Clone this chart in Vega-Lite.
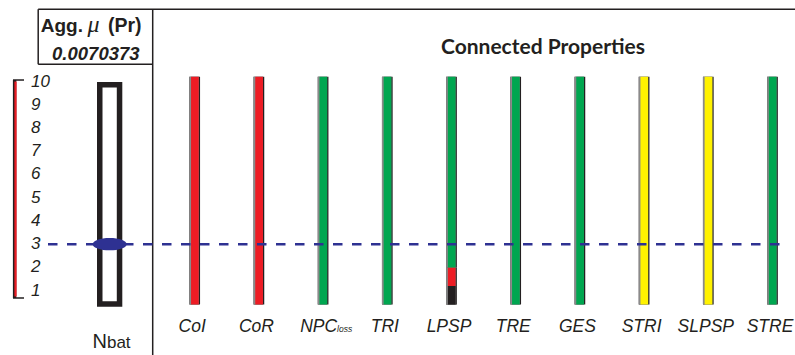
{
  "$schema": "https://vega.github.io/schema/vega-lite/v6.json",
  "width": 795,
  "height": 355,
  "autosize": {"type": "none"},
  "padding": 0,
  "background": "white",
  "config": {"view": {"stroke": null}, "text": {"font": "Liberation Sans", "color": "#231f20"}},
  "datasets": {
    "properties": [
      {"name": "CoI", "label": "CoI", "sub": ""},
      {"name": "CoR", "label": "CoR", "sub": ""},
      {"name": "NPCloss", "label": "NPC", "sub": "loss"},
      {"name": "TRI", "label": "TRI", "sub": ""},
      {"name": "LPSP", "label": "LPSP", "sub": ""},
      {"name": "TRE", "label": "TRE", "sub": ""},
      {"name": "GES", "label": "GES", "sub": ""},
      {"name": "STRI", "label": "STRI", "sub": ""},
      {"name": "SLPSP", "label": "SLPSP", "sub": ""},
      {"name": "STRE", "label": "STRE", "sub": ""}
    ],
    "segments": [
      {"name": "CoI", "status": "fail", "lo": 0.4, "hi": 10.2},
      {"name": "CoR", "status": "fail", "lo": 0.4, "hi": 10.2},
      {"name": "NPCloss", "status": "pass", "lo": 0.4, "hi": 10.2},
      {"name": "TRI", "status": "pass", "lo": 0.4, "hi": 10.2},
      {"name": "LPSP", "status": "critical", "lo": 0.4, "hi": 1.2},
      {"name": "LPSP", "status": "fail", "lo": 1.2, "hi": 2.0},
      {"name": "LPSP", "status": "pass", "lo": 2.0, "hi": 10.2},
      {"name": "TRE", "status": "pass", "lo": 0.4, "hi": 10.2},
      {"name": "GES", "status": "pass", "lo": 0.4, "hi": 10.2},
      {"name": "STRI", "status": "warn", "lo": 0.4, "hi": 10.2},
      {"name": "SLPSP", "status": "warn", "lo": 0.4, "hi": 10.2},
      {"name": "STRE", "status": "pass", "lo": 0.4, "hi": 10.2}
    ],
    "battery": [{"name": "Nbat", "label": "N", "sub": "bat", "lo": 0.43, "hi": 9.86, "selected": 3}],
    "levels": [
      {"level": 1}, {"level": 2}, {"level": 3}, {"level": 4}, {"level": 5},
      {"level": 6}, {"level": 7}, {"level": 8}, {"level": 9}, {"level": 10}
    ]
  },
  "resolve": {"scale": {"x": "independent"}},
  "layer": [
    {
      "layer": [
        {
          "data": {"name": "segments"},
          "mark": {"type": "bar", "color": "#231f20"},
          "encoding": {
            "x": {"field": "name", "type": "nominal", "axis": null,
              "scale": {"type": "band", "domain": ["CoI", "CoR", "NPCloss", "TRI", "LPSP", "TRE", "GES", "STRI", "SLPSP", "STRE"], "range": [189.35, 777.85], "paddingInner": 0.8333, "paddingOuter": 0, "round": false}},
            "y": {"field": "lo", "type": "quantitative", "axis": null, "scale": {"domain": [-1.768, 13.508], "nice": false, "zero": false}},
            "y2": {"field": "hi"}
          }
        },
        {
          "data": {"name": "segments"},
          "mark": {"type": "bar", "color": "#8a8a8a", "width": 9.4, "xOffset": -0.65},
          "encoding": {
            "x": {"field": "name", "type": "nominal", "axis": null},
            "y": {"field": "lo", "type": "quantitative", "axis": null},
            "y2": {"field": "hi"}
          }
        },
        {
          "data": {"name": "segments"},
          "mark": {"type": "bar", "width": 7.7, "xOffset": 0.2, "opacity": 1},
          "encoding": {
            "x": {"field": "name", "type": "nominal", "axis": null},
            "y": {"field": "lo", "type": "quantitative", "axis": null},
            "y2": {"field": "hi"},
            "color": {"field": "status", "type": "nominal", "legend": null,
              "scale": {"domain": ["pass", "fail", "warn", "critical"], "range": ["#00a650", "#ed1c24", "#fff200", "#231f20"]}}
          }
        },
        {
          "data": {"name": "properties"},
          "transform": [{"filter": "datum.sub == ''"}],
          "mark": {"type": "text", "fontSize": 17.5, "fontStyle": "italic", "align": "center", "baseline": "alphabetic", "dx": -2.5},
          "encoding": {
            "x": {"field": "name", "type": "nominal", "axis": null},
            "y": {"datum": -0.778, "type": "quantitative"},
            "text": {"field": "label"}
          }
        },
        {
          "data": {"name": "properties"},
          "transform": [{"filter": "datum.sub != ''"}],
          "mark": {"type": "text", "fontSize": 17.5, "fontStyle": "italic", "align": "right", "baseline": "alphabetic", "dx": 14},
          "encoding": {
            "x": {"field": "name", "type": "nominal", "axis": null},
            "y": {"datum": -0.778, "type": "quantitative"},
            "text": {"field": "label"}
          }
        },
        {
          "data": {"name": "properties"},
          "transform": [{"filter": "datum.sub != ''"}],
          "mark": {"type": "text", "fontSize": 8.5, "fontStyle": "italic", "align": "left", "baseline": "alphabetic", "dx": 14},
          "encoding": {
            "x": {"field": "name", "type": "nominal", "axis": null},
            "y": {"datum": -0.778, "type": "quantitative"},
            "text": {"field": "sub"}
          }
        }
      ]
    },
    {
      "data": {"values": [{}]},
      "layer": [
        {
          "mark": {"type": "rule", "color": "#231f20", "strokeWidth": 1.5},
          "encoding": {
            "x": {"datum": 38.2, "type": "quantitative", "axis": null, "scale": {"type": "linear", "domain": [0, 795], "nice": false, "zero": false}},
            "x2": {"datum": 795},
            "y": {"datum": 13.112, "type": "quantitative", "axis": null}
          }
        },
        {
          "mark": {"type": "rule", "color": "#231f20", "strokeWidth": 1.5},
          "encoding": {
            "x": {"datum": 38.2, "type": "quantitative"},
            "y": {"datum": 13.112, "type": "quantitative"},
            "y2": {"datum": 10.741}
          }
        },
        {
          "mark": {"type": "rule", "color": "#231f20", "strokeWidth": 1.5},
          "encoding": {
            "x": {"datum": 38.2, "type": "quantitative"},
            "x2": {"datum": 152.7},
            "y": {"datum": 10.741, "type": "quantitative"}
          }
        },
        {
          "mark": {"type": "rule", "color": "#231f20", "strokeWidth": 1.5},
          "encoding": {
            "x": {"datum": 152.7, "type": "quantitative"},
            "y": {"datum": 13.112, "type": "quantitative"},
            "y2": {"datum": -1.768}
          }
        },
        {
          "mark": {"type": "rule", "color": "#231f20", "strokeWidth": 3.4},
          "encoding": {
            "x": {"datum": 14.6, "type": "quantitative"},
            "y": {"datum": 10.065, "type": "quantitative"},
            "y2": {"datum": 0.685}
          }
        },
        {
          "mark": {"type": "rule", "color": "#ed1c24", "strokeWidth": 2.2},
          "encoding": {
            "x": {"datum": 15.5, "type": "quantitative"},
            "y": {"datum": 10.0, "type": "quantitative"},
            "y2": {"datum": 0.75}
          }
        },
        {
          "mark": {"type": "rule", "color": "#231f20", "strokeWidth": 1.5},
          "encoding": {
            "x": {"datum": 13.0, "type": "quantitative"},
            "x2": {"datum": 24},
            "y": {"datum": 10.065, "type": "quantitative"}
          }
        },
        {
          "mark": {"type": "rule", "color": "#231f20", "strokeWidth": 1.5},
          "encoding": {
            "x": {"datum": 13.0, "type": "quantitative"},
            "x2": {"datum": 24},
            "y": {"datum": 0.685, "type": "quantitative"}
          }
        },
        {
          "mark": {"type": "rule", "color": "#2e3192", "strokeWidth": 2.5, "strokeDash": [9.5, 9.5]},
          "encoding": {
            "x": {"datum": 48, "type": "quantitative"},
            "x2": {"datum": 787},
            "y": {"datum": 3, "type": "quantitative"}
          }
        },
        {
          "data": {"name": "levels"},
          "mark": {"type": "text", "fontSize": 17, "fontStyle": "italic", "align": "left", "baseline": "middle"},
          "encoding": {
            "x": {"datum": 31, "type": "quantitative"},
            "y": {"field": "level", "type": "quantitative"},
            "text": {"field": "level"}
          }
        },
        {
          "mark": {"type": "text", "text": "Agg.", "fontSize": 19, "fontWeight": "bold", "align": "left", "baseline": "alphabetic"},
          "encoding": {
            "x": {"datum": 40.7, "type": "quantitative"},
            "y": {"datum": 12.144, "type": "quantitative"}
          }
        },
        {
          "mark": {"type": "text", "text": "μ", "font": "Liberation Serif", "fontSize": 24, "fontStyle": "italic", "align": "left", "baseline": "alphabetic"},
          "encoding": {
            "x": {"datum": 87.5, "type": "quantitative"},
            "y": {"datum": 12.144, "type": "quantitative"}
          }
        },
        {
          "mark": {"type": "text", "text": "(Pr)", "fontSize": 19.5, "fontWeight": "bold", "align": "left", "baseline": "alphabetic"},
          "encoding": {
            "x": {"datum": 108, "type": "quantitative"},
            "y": {"datum": 12.144, "type": "quantitative"}
          }
        },
        {
          "mark": {"type": "text", "text": "0.0070373", "fontSize": 18.5, "fontWeight": "bold", "fontStyle": "italic", "align": "center", "baseline": "alphabetic"},
          "encoding": {
            "x": {"datum": 95.8, "type": "quantitative"},
            "y": {"datum": 10.926, "type": "quantitative"}
          }
        },
        {
          "mark": {"type": "text", "text": "Connected Properties", "font": "Lato", "fontSize": 21, "fontWeight": "bold", "align": "center", "baseline": "alphabetic"},
          "encoding": {
            "x": {"datum": 543, "type": "quantitative"},
            "y": {"datum": 11.171, "type": "quantitative"}
          }
        }
      ]
    },
    {
      "data": {"name": "battery"},
      "layer": [
        {
          "mark": {"type": "bar", "fill": "white", "stroke": "#231f20", "strokeWidth": 5.5},
          "encoding": {
            "x": {"field": "name", "type": "nominal", "axis": null,
              "scale": {"type": "band", "domain": ["Nbat"], "range": [99.75, 119.55], "paddingInner": 0, "paddingOuter": 0, "round": false}},
            "y": {"field": "lo", "type": "quantitative", "axis": null},
            "y2": {"field": "hi"}
          }
        },
        {
          "mark": {"type": "point", "shape": "M -1 0 A 1 0.36 0 1 1 1 0 A 1 0.36 0 1 1 -1 0 Z", "size": 1156, "filled": true, "color": "#2e3192", "opacity": 1},
          "encoding": {
            "x": {"field": "name", "type": "nominal", "axis": null},
            "y": {"field": "selected", "type": "quantitative", "axis": null}
          }
        },
        {
          "mark": {"type": "text", "fontSize": 20, "align": "right", "baseline": "alphabetic", "dx": -2.7},
          "encoding": {
            "x": {"field": "name", "type": "nominal", "axis": null},
            "y": {"datum": -1.466, "type": "quantitative"},
            "text": {"field": "label"}
          }
        },
        {
          "mark": {"type": "text", "fontSize": 17, "align": "left", "baseline": "alphabetic", "dx": -2.7},
          "encoding": {
            "x": {"field": "name", "type": "nominal", "axis": null},
            "y": {"datum": -1.466, "type": "quantitative"},
            "text": {"field": "sub"}
          }
        }
      ]
    }
  ]
}
